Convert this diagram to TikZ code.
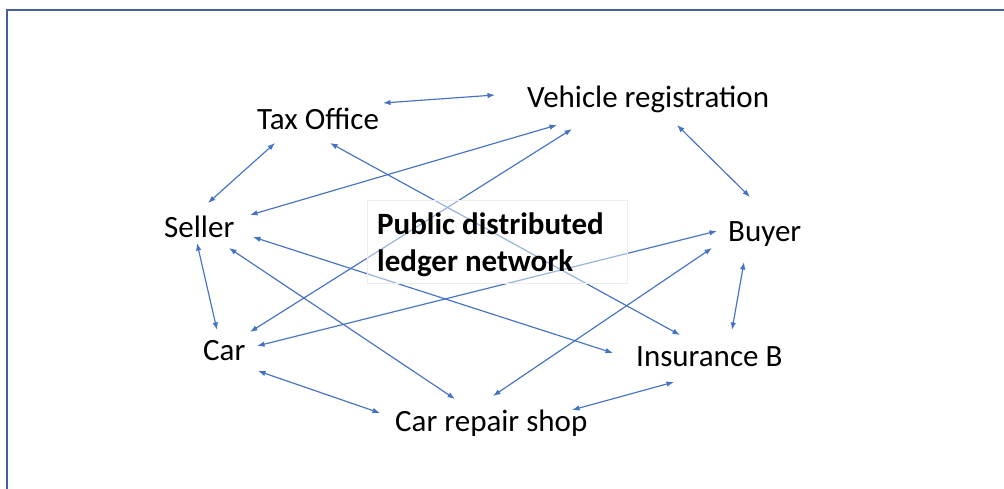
\documentclass[tikz,border=0pt]{standalone}
\usepackage{fontspec}
\setmainfont{Carlito}
\usetikzlibrary{arrows.meta,calc}
\definecolor{linkblue}{HTML}{4472C4}
\definecolor{framecol}{HTML}{44609A}
\begin{document}
\begin{tikzpicture}[x=1pt,y=-1pt,
  party/.style={anchor=base west,inner sep=0pt,font=\fontsize{31}{37}\selectfont},
  link/.style={linkblue,line width=1.15pt,{Latex[length=7.5pt,width=5.5pt]}-{Latex[length=7.5pt,width=5.5pt]}}]
\useasboundingbox (0,0) rectangle (1004,489);
\fill[white] (0,0) rectangle (1004,489);
% frame
\draw[framecol,line width=1.4pt] (7,489) -- (7,10) -- (1004,10);
% parties
\node[party] (tax)    at (257,130) {Tax Office};
\node[party] (veh)    at (527,108) {Vehicle registration};
\node[party] (seller) at (164,238) {Seller};
\node[party] (buyer)  at (728,241) {Buyer};
\node[party] (car)    at (203,360) {Car};
\node[party] (ins)    at (636,366) {Insurance B};
\node[party] (shop)   at (395,431) {Car repair shop};
% links between parties
\draw[link] ($(tax.base west)+(126,-27)$) -- ($(veh.base west)+(-32,-13)$);
\draw[link] ($(tax.base west)+(18,13)$) -- ($(seller.base west)+(44,-35)$);
\draw[link] ($(seller.base west)+(86,-23)$) -- ($(veh.base west)+(30,17)$);
\draw[link] ($(car.base west)+(47,-28)$) -- ($(veh.base west)+(45,21)$);
\draw[link] ($(tax.base west)+(73,13)$) -- ($(ins.base west)+(44,-31)$);
\draw[link] ($(veh.base west)+(150,17)$) -- ($(buyer.base west)+(22,-44)$);
\draw[link] ($(buyer.base west)+(16,21)$) -- ($(ins.base west)+(96,-36)$);
\draw[link] ($(car.base west)+(54,-14)$) -- ($(buyer.base west)+(-11,-10)$);
\draw[link] ($(shop.base west)+(98,-35)$) -- ($(buyer.base west)+(-16,7)$);
\draw[link] ($(seller.base west)+(89,-1)$) -- ($(ins.base west)+(-23,-13)$);
\draw[link] ($(seller.base west)+(65,10)$) -- ($(shop.base west)+(60,-32)$);
\draw[link] ($(seller.base west)+(33,5)$) -- ($(car.base west)+(14,-30)$);
\draw[link] ($(car.base west)+(55,11)$) -- ($(shop.base west)+(-15,-18)$);
\draw[link] ($(shop.base west)+(177,-21)$) -- ($(ins.base west)+(38,16)$);
% central label box
\filldraw[draw=black!7,fill=white,fill opacity=0.45] (367,200) rectangle (627,283);
\node[anchor=base west,inner sep=0pt,align=left,font=\bfseries\fontsize{31}{37}\selectfont] (net) at (377,271)
  {Public distributed\\ledger network};
\end{tikzpicture}
\end{document}
